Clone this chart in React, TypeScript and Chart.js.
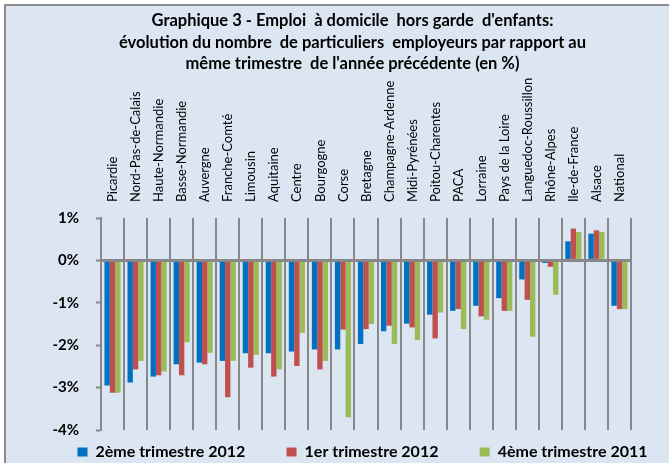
import React, { useEffect, useRef } from "react";
import { Chart, registerables } from "chart.js";

Chart.register(...registerables);

const categories = [
  "Picardie", "Nord-Pas-de-Calais", "Haute-Normandie", "Basse-Normandie", "Auvergne",
  "Franche-Comté", "Limousin", "Aquitaine", "Centre", "Bourgogne", "Corse", "Bretagne",
  "Champagne-Ardenne", "Midi-Pyrénées", "Poitou-Charentes", "PACA", "Lorraine",
  "Pays de la Loire", "Languedoc-Roussillon", "Rhône-Alpes", "Ile-de-France", "Alsace", "National",
];

const t2_2012 = [-2.95, -2.88, -2.74, -2.45, -2.41, -2.37, -2.19, -2.19, -2.15, -2.1, -2.1, -1.97, -1.67, -1.49, -1.28, -1.19, -1.07, -0.89, -0.45, -0.06, 0.45, 0.63, -1.07];
const t1_2012 = [-3.12, -2.57, -2.71, -2.71, -2.45, -3.23, -2.53, -2.74, -2.49, -2.57, -1.63, -1.62, -1.54, -1.58, -1.84, -1.15, -1.32, -1.19, -0.93, -0.15, 0.75, 0.71, -1.15];
const t4_2011 = [-3.12, -2.37, -2.62, -1.93, -2.18, -2.37, -2.23, -2.57, -1.71, -2.37, -3.7, -1.5, -1.97, -1.88, -1.23, -1.62, -1.4, -1.19, -1.8, -0.81, 0.67, 0.67, -1.15];

const seriesLabels = ["2ème trimestre 2012", "1er trimestre 2012", "4ème trimestre 2011"];
const titleLines = [
  "Graphique 3 - Emploi  à domicile  hors garde  d'enfants:",
  "évolution du nombre  de particuliers  employeurs par rapport au",
  "même trimestre  de l'année précédente (en %)",
];

const FONT = "Lato, 'Open Sans', sans-serif";
const GREY = "#888888";

const bgPlugin = {
  id: "bgPlugin",
  beforeDraw(chart: any) {
    const { ctx, width, height } = chart;
    ctx.save();
    ctx.fillStyle = "#ffffff";
    ctx.fillRect(0, 0, width, height);
    ctx.fillStyle = "#DCE6F2";
    ctx.fillRect(5, 5, width, height);
    ctx.strokeStyle = "#8C8C8C";
    ctx.lineWidth = 2;
    ctx.beginPath();
    ctx.moveTo(5, height + 5);
    ctx.lineTo(5, 5);
    ctx.lineTo(width + 5, 5);
    ctx.stroke();
    ctx.restore();
  },
};

export default function App() {
  const ref = useRef<HTMLCanvasElement>(null);
  useEffect(() => {
    if (!ref.current) return;
    const nb = (n: number) => "\u00A0".repeat(n);
    const chart = new Chart(ref.current, {
      type: "bar",
      data: {
        labels: categories,
        datasets: [
          { label: seriesLabels[0] + nb(7), data: t2_2012, backgroundColor: "#0070C0" },
          { label: seriesLabels[1] + nb(7), data: t1_2012, backgroundColor: "#C0504D" },
          { label: seriesLabels[2], data: t4_2011, backgroundColor: "#9BBB59" },
        ],
      },
      plugins: [bgPlugin],
      options: {
        responsive: false,
        animation: false,
        layout: { padding: { left: 40, right: -16, top: 6, bottom: -7 } },
        datasets: { bar: { categoryPercentage: 0.7, barPercentage: 1.0 } },
        plugins: {
          title: {
            display: true,
            text: titleLines.map((l) => l + nb(5)),
            color: "#000",
            font: { family: FONT, size: 16.5, weight: "bold", lineHeight: 1.3 },
            padding: { top: 4, bottom: 0 },
          },
          legend: {
            position: "bottom",
            labels: {
              boxWidth: 10,
              boxHeight: 9,
              padding: 14,
              color: "#000",
              font: { family: FONT, size: 16, weight: "bold" },
            },
          },
          tooltip: { enabled: false },
        },
        scales: {
          x: {
            position: "top",
            grid: { offset: true, color: GREY, lineWidth: 2, drawTicks: false },
            border: { display: false },
            ticks: {
              autoSkip: false,
              maxRotation: 90,
              minRotation: 90,
              padding: 16,
              labelOffset: 16,
              color: "#000",
              font: { family: FONT, size: 13 },
            },
            afterFit: (scale: any) => { scale.height = 143.65; },
          },
          y: {
            min: -4,
            max: 1,
            ticks: {
              stepSize: 1,
              padding: 17,
              color: "#000",
              font: { family: FONT, size: 15, weight: "bold" },
              callback: (v: any) => v + "%",
            },
            grid: {
              color: (c: any) => (c.tick && c.tick.value === 0 ? GREY : "rgba(0,0,0,0)"),
              lineWidth: (c: any) => (c.tick && c.tick.value === 0 ? 3 : 1),
              tickColor: GREY,
              tickLength: 5,
              tickWidth: 2,
            },
            border: { display: true, color: GREY, width: 2 },
            afterFit: (scale: any) => { scale.width = 61; },
          },
          yRight: {
            position: "right",
            display: true,
            ticks: { display: false },
            grid: { display: false, drawOnChartArea: false, drawTicks: false },
            border: { display: false },
            afterFit: (scale: any) => { scale.width = 54; },
          },
        },
      },
    });
    return () => chart.destroy();
  }, []);
  return (
    <div style={{ position: "fixed", left: 0, top: 0, width: 669, height: 463 }}>
      <canvas ref={ref} width={669} height={463} />
    </div>
  );
}
